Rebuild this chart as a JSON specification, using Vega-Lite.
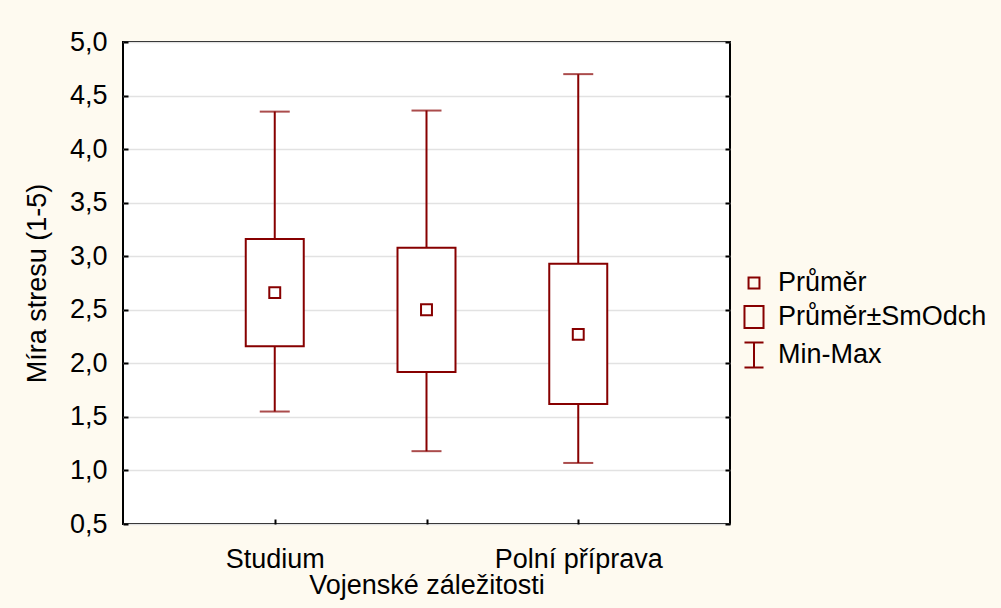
{
  "$schema": "https://vega.github.io/schema/vega-lite/v6.json",
  "autosize": "none",
  "width": 607,
  "height": 482,
  "padding": {"left": 123, "top": 42, "right": 271, "bottom": 84},
  "background": "#fefaf0",
  "config": {
    "view": {"fill": "white", "stroke": "black", "strokeWidth": 2},
    "axis": {
      "labelFont": "Liberation Sans",
      "labelFontSize": 27,
      "labelColor": "black",
      "titleFont": "Liberation Sans",
      "titleFontSize": 27,
      "titleFontWeight": "normal",
      "titleColor": "black",
      "domain": false,
      "tickColor": "black",
      "tickWidth": 2,
      "tickSize": -5,
      "gridColor": "#e2e2e2",
      "gridWidth": 1.5
    },
    "legend": {
      "labelFont": "Liberation Sans",
      "labelFontSize": 27,
      "labelColor": "black"
    }
  },
  "data": {
    "values": [
      {"kat": "Studium", "min": 1.55, "lo": 2.16, "prumer": 2.66, "hi": 3.16, "max": 4.35},
      {"kat": "Cvičení", "min": 1.18, "lo": 1.92, "prumer": 2.5, "hi": 3.08, "max": 4.36},
      {"kat": "Polní příprava", "min": 1.07, "lo": 1.62, "prumer": 2.27, "hi": 2.93, "max": 4.7}
    ]
  },
  "layer": [
    {
      "mark": {"type": "rule", "color": "#870000", "strokeWidth": 2},
      "encoding": {
        "x": {
          "field": "kat",
          "type": "nominal",
          "sort": null,
          "scale": {"type": "point", "padding": 1},
          "axis": {
            "title": "Vojenské záležitosti",
            "labelAngle": 0,
            "labelPadding": 27,
            "titlePadding": 0,
            "grid": false,
            "labelExpr": "datum.value == 'Cvičení' ? '' : datum.label"
          }
        },
        "y": {
          "field": "min",
          "type": "quantitative",
          "scale": {"domain": [0.5, 5], "nice": false, "zero": false},
          "axis": {
            "title": "Míra stresu (1-5)",
            "values": [0.5, 1, 1.5, 2, 2.5, 3, 3.5, 4, 4.5, 5],
            "labelExpr": "replace(format(datum.value, '.1f'), '.', ',')",
            "labelPadding": 21,
            "titlePadding": 18,
            "grid": true
          }
        },
        "y2": {"field": "max"}
      }
    },
    {
      "mark": {"type": "tick", "color": "#870000", "size": 30, "thickness": 2},
      "encoding": {
        "x": {"field": "kat", "type": "nominal", "sort": null},
        "y": {
          "field": "max",
          "type": "quantitative",
          "axis": {
            "orient": "right",
            "title": null,
            "labels": false,
            "grid": false,
            "values": [0.5, 1, 1.5, 2, 2.5, 3, 3.5, 4, 4.5, 5]
          }
        }
      }
    },
    {
      "mark": {"type": "tick", "color": "#870000", "size": 30, "thickness": 2},
      "encoding": {
        "x": {"field": "kat", "type": "nominal", "sort": null},
        "y": {"field": "min", "type": "quantitative", "axis": null}
      }
    },
    {
      "mark": {"type": "bar", "width": 58, "fill": "white", "stroke": "#870000", "strokeWidth": 2},
      "encoding": {
        "x": {"field": "kat", "type": "nominal", "sort": null},
        "y": {"field": "lo", "type": "quantitative", "axis": null},
        "y2": {"field": "hi"}
      }
    },
    {
      "mark": {"type": "point", "filled": false, "color": "#870000", "strokeWidth": 2, "size": 784, "opacity": 1},
      "encoding": {
        "x": {"field": "kat", "type": "nominal", "sort": null},
        "y": {"field": "prumer", "type": "quantitative", "axis": null},
        "shape": {
          "datum": "Průměr",
          "scale": {
            "domain": ["Průměr", "Průměr±SmOdch", "Min-Max"],
            "range": [
              "M-0.39,-0.39H0.39V0.39H-0.39Z",
              "M-0.68,-0.79H0.68V0.79H-0.68Z",
              "M-0.68,-0.9H0.68M0,-0.9V0.9M-0.68,0.9H0.68"
            ]
          },
          "legend": {
            "title": null,
            "orient": "none",
            "legendX": 616,
            "legendY": 226,
            "padding": 0,
            "symbolSize": 784,
            "symbolStrokeWidth": 2,
            "symbolStrokeColor": "#870000",
            "symbolFillColor": "transparent",
            "symbolOpacity": 1,
            "rowPadding": 5,
            "labelOffset": 9,
            "labelLimit": 400
          }
        }
      }
    }
  ],
  "resolve": {"axis": {"y": "independent"}}
}
